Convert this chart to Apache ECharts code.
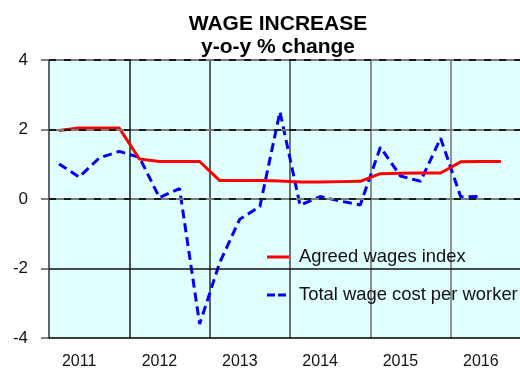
<!DOCTYPE html>
<html>
<head>
<meta charset="utf-8">
<script src="https://cdn.jsdelivr.net/npm/echarts@6/dist/echarts.min.js"></script>
<style>
  html, body { margin: 0; padding: 0; background: #ffffff; overflow: hidden; width: 520px; height: 370px; }
  /* the plot runs past the right edge of the page, so the chart is wider than the view */
  #chart { width: 531px; height: 370px; }
</style>
</head>
<body>
<div id="chart"></div>
<script>
// Quarterly periods, 2011 Q1 .. 2016 Q4
const quarters = [
  '2011 Q1', '2011 Q2', '2011 Q3', '2011 Q4',
  '2012 Q1', '2012 Q2', '2012 Q3', '2012 Q4',
  '2013 Q1', '2013 Q2', '2013 Q3', '2013 Q4',
  '2014 Q1', '2014 Q2', '2014 Q3', '2014 Q4',
  '2015 Q1', '2015 Q2', '2015 Q3', '2015 Q4',
  '2016 Q1', '2016 Q2', '2016 Q3', '2016 Q4'
];

// Year label shown under each year block
const yearLabels = ['2011', '2012', '2013', '2014', '2015', '2016'];

// y-o-y % change
const agreedWages = [
  1.97, 2.04, 2.04, 2.04,
  1.15, 1.08, 1.08, 1.08,
  0.53, 0.53, 0.53, 0.52,
  0.49, 0.49, 0.50, 0.51,
  0.73, 0.74, 0.75, 0.75,
  1.07, 1.08, 1.08, null
];

const totalWageCost = [
  1.01, 0.63, 1.18, 1.37,
  1.20, 0.04, 0.30, -3.60,
  -1.83, -0.58, -0.22, 2.51,
  -0.18, 0.07, -0.06, -0.17,
  1.49, 0.66, 0.51, 1.75,
  0.06, 0.07, null, null
];

const yTicks = { min: -4, max: 4, step: 2 };
// horizontal rules: dashed ones and the plain one
const dashedRules = [0, 2, 4];
const solidRules = [-2];

const chart = echarts.init(document.getElementById('chart'), null, { renderer: 'canvas' });

const font = 'Liberation Sans, Arial, sans-serif';

const ruleLines = (values, style) => ({
  silent: true,
  symbol: ['none', 'none'],
  label: { show: false },
  lineStyle: style,
  emphasis: { disabled: true },
  data: values.map((v) => ({ yAxis: v }))
});

chart.setOption({
  animation: false,
  backgroundColor: '#ffffff',
  textStyle: { fontFamily: font },
  graphic: [{
    type: 'text',
    x: 278,
    y: 13,
    style: {
      text: 'WAGE INCREASE\ny-o-y % change',
      font: 'bold 21px ' + font,
      lineHeight: 23,
      align: 'center',
      verticalAlign: 'top',
      fill: '#000000'
    }
  }],
  grid: {
    left: 49,
    top: 60,
    right: 0,
    bottom: 30.5,
    show: true,
    backgroundColor: '#e0ffff',
    borderWidth: 0
  },
  legend: {
    orient: 'vertical',
    left: 262,
    top: 243,
    itemWidth: 22,
    itemHeight: 3,
    itemGap: 20,
    data: [
      { name: 'Agreed wages index', icon: 'path://M0,0H22V3H0Z', itemStyle: { color: '#ff0000' } },
      { name: 'Total wage cost per worker', icon: 'path://M0,0H8V3H0Z M11,0H19V3H11Z M22,0H22.01V3H22Z', itemStyle: { color: '#0000ff' } }
    ],
    textStyle: { fontSize: 18.4, color: '#111111', fontFamily: font, padding: [0, 0, 0, 5] }
  },
  xAxis: {
    type: 'category',
    data: quarters,
    boundaryGap: true,
    axisLine: { show: true, onZero: false, lineStyle: { color: '#000000', width: 1.5 } },
    axisTick: { show: false },
    axisLabel: {
      interval: (i) => i % 4 === 1,
      formatter: (v, i) => yearLabels[Math.floor(i / 4)],
      fontSize: 16,
      color: '#111111',
      margin: 16
    },
    splitLine: {
      show: true,
      showMinLine: false,
      interval: 3,
      lineStyle: {
        width: 1.5,
        color: ['#1a1a1a', '#2a2a2a', '#444444', '#6a6a6a', '#707070', '#707070']
      }
    }
  },
  yAxis: {
    type: 'value',
    min: yTicks.min,
    max: yTicks.max,
    interval: yTicks.step,
    axisLine: { show: true, onZero: false, lineStyle: { color: '#333333', width: 1.5 } },
    axisTick: { show: true, length: 8, lineStyle: { color: '#555555', width: 1.5 } },
    axisLabel: { fontSize: 17, color: '#111111', margin: 21 },
    splitLine: { show: false }
  },
  series: [{
    // carries the horizontal rules only, beneath the data lines
    name: 'rules',
    type: 'line',
    data: [],
    z: 1,
    markLine: ruleLines(solidRules, { color: '#111111', width: 1.5, type: 'solid' })
  }, {
    name: 'rules-grey',
    type: 'line',
    data: [],
    z: 1,
    markLine: ruleLines(dashedRules, { color: '#7a7a7a', width: 2, type: 'solid' })
  }, {
    name: 'rules-dash',
    type: 'line',
    data: [],
    z: 2,
    markLine: ruleLines(dashedRules, { color: '#1a1a1a', width: 2, type: [7, 8] })
  }, {
    name: 'Total wage cost per worker',
    type: 'line',
    data: totalWageCost,
    symbol: 'none',
    z: 3,
    lineStyle: { color: '#0000ff', width: 3, type: [9, 5] },
    itemStyle: { color: '#0000ff' }
  }, {
    name: 'Agreed wages index',
    type: 'line',
    data: agreedWages,
    symbol: 'none',
    z: 4,
    lineStyle: { color: '#ff0000', width: 3 },
    itemStyle: { color: '#ff0000' }
  }]
});
</script>
</body>
</html>
